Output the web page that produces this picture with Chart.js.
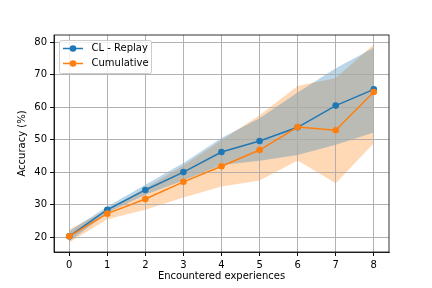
<!DOCTYPE html>
<html>
<head>
<meta charset="utf-8">
<script src="https://cdn.jsdelivr.net/npm/chart.js@4"></script>
<style>
  html, body { margin: 0; padding: 0; background: #fff; }
  #wrap { width: 432px; height: 288px; }
</style>
</head>
<body>
<div id="wrap"><canvas id="myChart" width="432" height="288"></canvas></div>
<script>
// experiences on the x axis
const steps = [0, 1, 2, 3, 4, 5, 6, 7, 8];
const yTicks = [20, 30, 40, 50, 60, 70, 80];

// CL - Replay: mean and band
const replayMean  = [20.2, 28.4, 34.5, 40.0, 46.2, 49.6, 53.8, 60.5, 65.5];
const replayUpper = [21.8, 29.4, 36.1, 42.8, 50.5, 56.6, 64.5, 72.0, 78.3];
const replayLower = [18.6, 27.4, 33.0, 37.4, 42.2, 43.5, 45.3, 48.4, 52.2];

// Cumulative: mean and band
const cumMean  = [20.2, 27.2, 31.7, 37.0, 41.8, 46.8, 53.9, 52.9, 64.7];
const cumUpper = [22.3, 28.4, 35.0, 42.0, 49.8, 57.5, 66.5, 69.0, 79.3];
const cumLower = [18.3, 25.5, 28.4, 32.2, 35.6, 37.4, 43.6, 36.6, 48.9];

const BLUE = '#1f77b4';
const ORANGE = '#ff7f0e';

function toPts(arr) {
    return arr.map(function(v, i) { return { x: steps[i], y: v }; });
}

function band(data, color, fill, order) {
    return {
        data: toPts(data),
        borderWidth: 0,
        pointRadius: 0,
        pointHoverRadius: 0,
        backgroundColor: color,
        fill: fill,
        order: order,
        tension: 0
    };
}

function line(label, data, color, order) {
    return {
        label: label,
        data: toPts(data),
        borderColor: color,
        backgroundColor: color,
        borderWidth: 1.5,
        pointRadius: 3.3,
        pointBorderWidth: 0,
        fill: false,
        order: order,
        tension: 0
    };
}

// grid sits above the bands but under the lines, like matplotlib
const gridOverBands = {
    id: 'gridOverBands',
    afterDatasetDraw(chart, args) {
        if (args.index === 3) {
            chart.scales.x.drawGrid(chart.chartArea);
            chart.scales.y.drawGrid(chart.chartArea);
        }
    }
};

const frameAndLegend = {
    id: 'frameAndLegend',
    afterDraw(chart) {
        const ctx = chart.ctx;
        const a = chart.chartArea;
        ctx.save();
        ctx.strokeStyle = '#000';
        ctx.lineWidth = 0.8;
        ctx.strokeRect(a.left, a.top, a.right - a.left, a.bottom - a.top);

        // legend box
        const bx = 59.5, by = 40.5, bw = 92, bh = 33;
        ctx.beginPath();
        ctx.roundRect(bx, by, bw, bh, 2);
        ctx.fillStyle = 'rgba(255,255,255,0.8)';
        ctx.fill();
        ctx.strokeStyle = '#cccccc';
        ctx.lineWidth = 1;
        ctx.stroke();

        const items = chart.data.datasets.filter(function(d) { return d.label; });
        items.forEach(function(d, i) {
            const y = 48.5 + i * 15;
            ctx.strokeStyle = d.borderColor;
            ctx.lineWidth = 1.5;
            ctx.beginPath();
            ctx.moveTo(63, y);
            ctx.lineTo(83, y);
            ctx.stroke();
            ctx.fillStyle = d.borderColor;
            ctx.beginPath();
            ctx.arc(73, y, 3.3, 0, Math.PI * 2);
            ctx.fill();
            ctx.fillStyle = '#000';
            ctx.font = '10px "DejaVu Sans"';
            ctx.textBaseline = 'middle';
            ctx.textAlign = 'left';
            ctx.fillText(d.label, 91.5, y);
        });
        ctx.restore();
    }
};

window.onload = function() {
    Chart.defaults.font.family = '"DejaVu Sans", sans-serif';
    Chart.defaults.font.size = 10;
    Chart.defaults.color = '#000';

    const data = {
        datasets: [
            band(cumLower, 'rgba(255,127,14,0.3)', false, 6),
            band(cumUpper, 'rgba(255,127,14,0.3)', '-1', 5),
            band(replayLower, 'rgba(31,119,180,0.3)', false, 4),
            band(replayUpper, 'rgba(31,119,180,0.3)', '-1', 3),
            line('CL - Replay', replayMean, BLUE, 2),
            line('Cumulative', cumMean, ORANGE, 1)
        ]
    };

    const config = {
        type: 'line',
        data: data,
        options: {
            responsive: false,
            animation: false,
            layout: { padding: { top: 35, right: 43, left: 0, bottom: 0 } },
            plugins: {
                legend: { display: false },
                tooltip: { enabled: false }
            },
            scales: {
                x: {
                    type: 'linear',
                    min: -0.4,
                    max: 8.4,
                    afterBuildTicks: function(s) { s.ticks = steps.map(function(v) { return { value: v }; }); },
                    afterFit: function(s) { s.height = 36; },
                    ticks: { padding: 3, maxRotation: 0, autoSkip: false, color: '#000' },
                    grid: { color: '#b0b0b0', lineWidth: 0.8, tickLength: 4, tickColor: '#000', tickWidth: 0.8 },
                    border: { color: '#000', width: 0.8 },
                    title: { display: true, text: 'Encountered experiences', padding: { top: 0, bottom: 6 }, color: '#000' }
                },
                y: {
                    type: 'linear',
                    min: 15.38,
                    max: 82.25,
                    afterBuildTicks: function(s) { s.ticks = yTicks.map(function(v) { return { value: v }; }); },
                    afterFit: function(s) { s.width = 54; },
                    ticks: { padding: 3, color: '#000' },
                    grid: { color: '#b0b0b0', lineWidth: 0.8, tickLength: 4, tickColor: '#000', tickWidth: 0.8 },
                    border: { color: '#000', width: 0.8 },
                    title: { display: true, text: 'Accuracy (%)', padding: { top: 16.5, bottom: 0 }, color: '#000' }
                }
            }
        },
        plugins: [gridOverBands, frameAndLegend]
    };

    const myChart = new Chart(document.getElementById('myChart'), config);
};
</script>
</body>
</html>
